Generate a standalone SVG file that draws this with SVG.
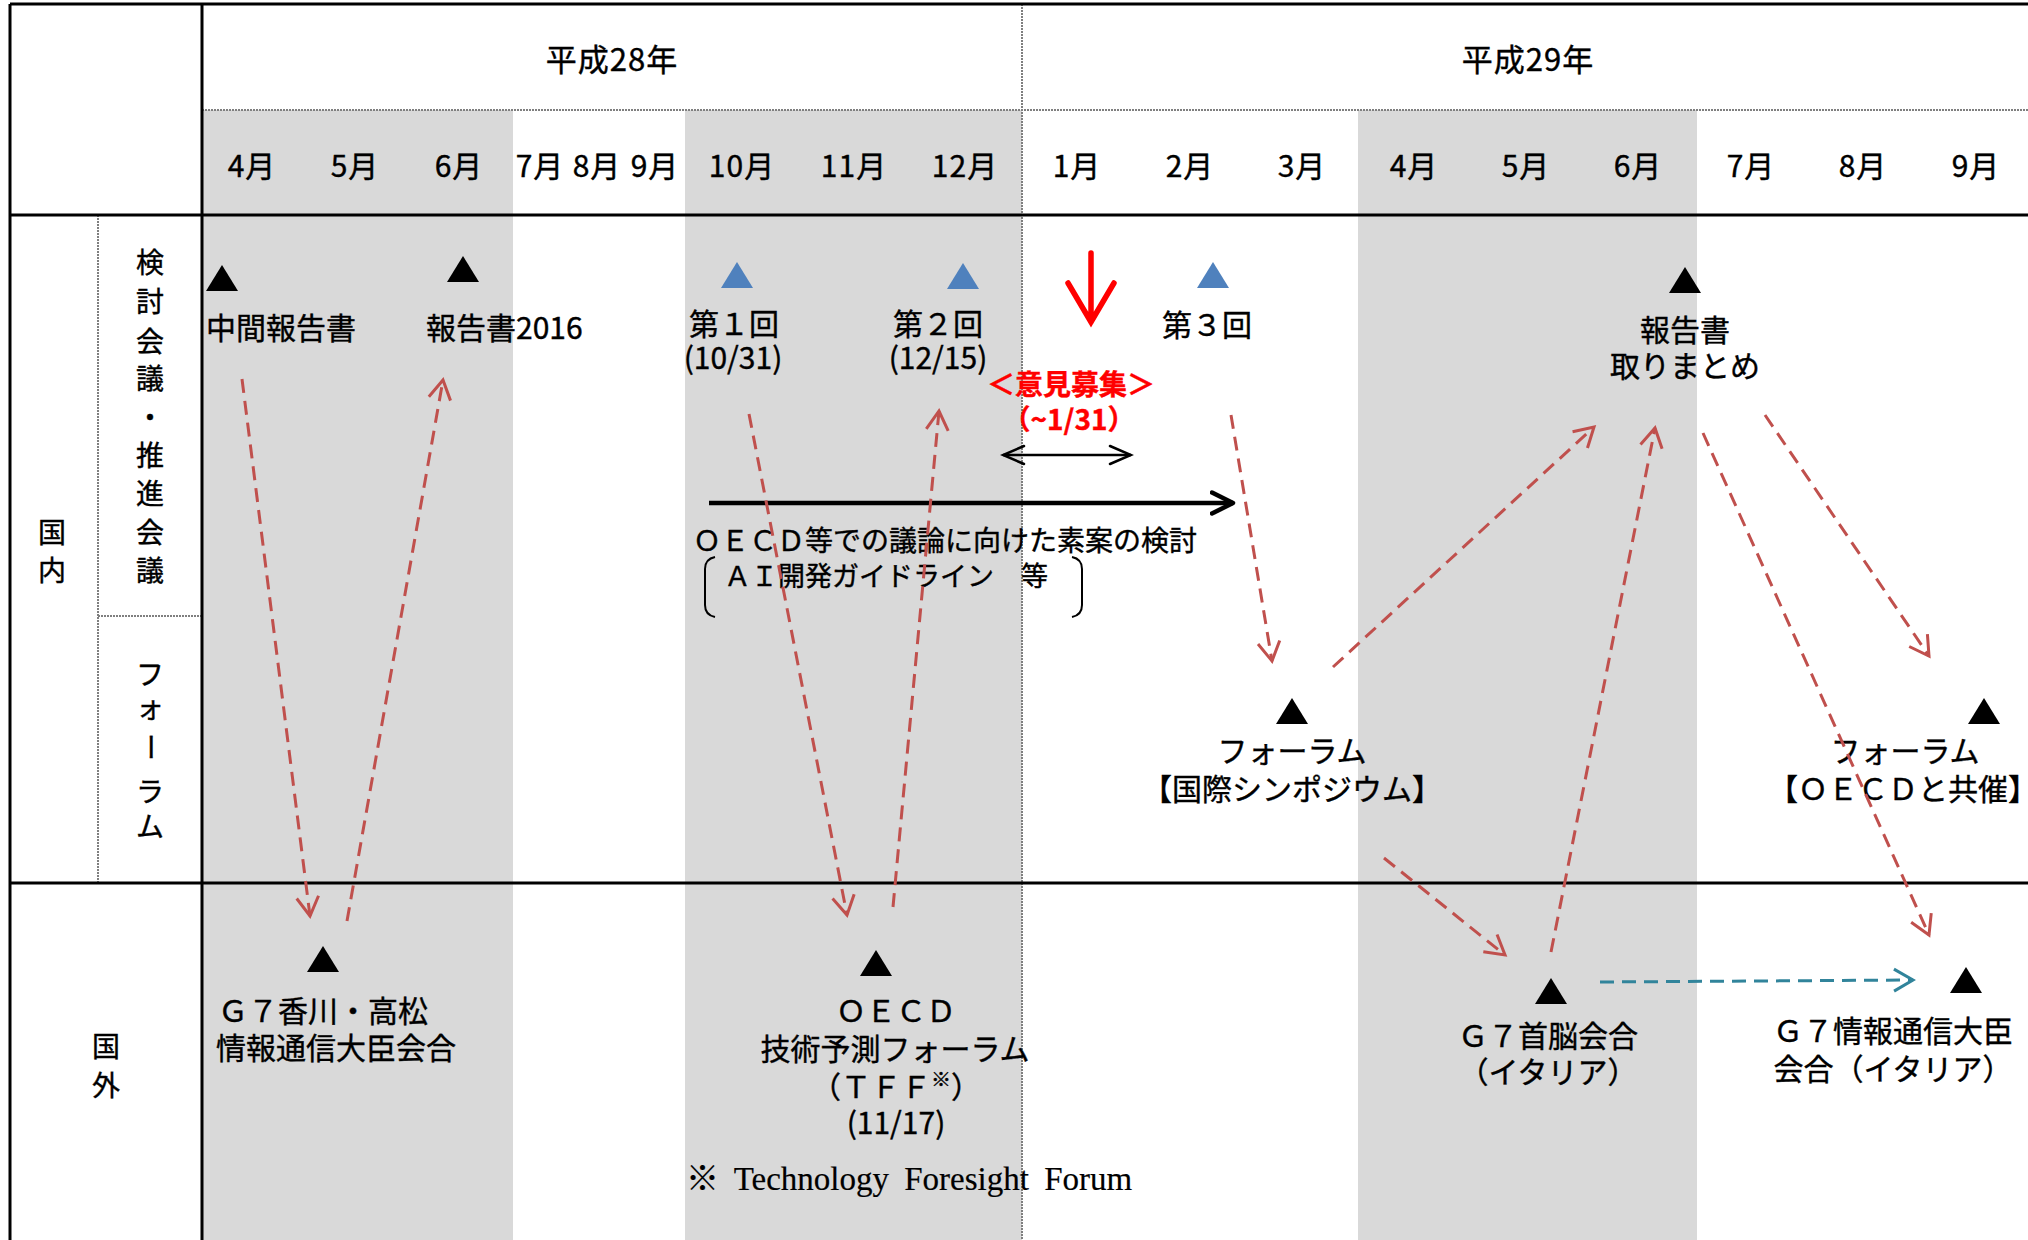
<svg xmlns="http://www.w3.org/2000/svg" width="2028" height="1240" viewBox="0 0 2028 1240">
<style>
text{font-family:"Noto Sans CJK JP","Noto Sans CJK SC",sans-serif;fill:#000;stroke:#000;stroke-width:0.4;}
.t31{font-size:31px;letter-spacing:1px;}
.t30{font-size:30px;}
.t29{font-size:30px;letter-spacing:1px;}
.t28{font-size:28px;}
.m{text-anchor:middle;}
.red{fill:#ff0000;stroke:#ff0000;font-weight:bold;font-size:28px;text-anchor:middle;}
.band{fill:#d9d9d9;}
.thick{stroke:#000;stroke-width:3;fill:none;}
.dot{stroke:#7f7f7f;stroke-width:2;stroke-dasharray:2 1;fill:none;}
.tri{fill:#000;}
.btri{fill:#4f81bd;}
.rd{stroke:#c0504d;stroke-width:3;stroke-dasharray:14 8;fill:none;marker-end:url(#ar);}
</style>
<defs>
<marker id="ar" viewBox="0 0 24 26" refX="21" refY="13" markerWidth="24" markerHeight="26" markerUnits="userSpaceOnUse" orient="auto"><path d="M2,2 L21,13 L2,24" fill="none" stroke="#c0504d" stroke-width="3"/></marker>
<marker id="ab" viewBox="0 0 24 26" refX="21" refY="13" markerWidth="24" markerHeight="26" markerUnits="userSpaceOnUse" orient="auto"><path d="M2,2 L21,13 L2,24" fill="none" stroke="#31849b" stroke-width="3"/></marker>
<marker id="ak" viewBox="0 0 26 26" refX="23" refY="13" markerWidth="26" markerHeight="26" markerUnits="userSpaceOnUse" orient="auto"><path d="M2,2.5 L23,13 L2,23.5" fill="none" stroke="#000" stroke-width="4.5" stroke-linecap="round" stroke-linejoin="round"/></marker>
<marker id="ad" viewBox="0 0 26 22" refX="23" refY="11" markerWidth="26" markerHeight="22" markerUnits="userSpaceOnUse" orient="auto-start-reverse"><path d="M2,2 L23,11 L2,20" fill="none" stroke="#000" stroke-width="2.5" stroke-linecap="round"/></marker>
</defs>

<g id="background">
<rect x="0" y="0" width="2028" height="1240" fill="#ffffff"/>
<rect class="band" x="202" y="110" width="311" height="1130"/>
<rect class="band" x="685" y="110" width="337" height="1130"/>
<rect class="band" x="1358" y="110" width="339" height="1130"/>
</g>

<g id="grid">
<line class="dot" x1="202" y1="110" x2="2028" y2="110"/>
<line class="dot" x1="1022" y1="4" x2="1022" y2="1240"/>
<line class="dot" x1="98" y1="215" x2="98" y2="883"/>
<line class="dot" x1="98" y1="616" x2="202" y2="616"/>
<line class="thick" x1="10" y1="4" x2="2028" y2="4"/>
<line class="thick" x1="10" y1="4" x2="10" y2="1240"/>
<line class="thick" x1="202" y1="4" x2="202" y2="1240"/>
<line class="thick" x1="10" y1="215" x2="2028" y2="215"/>
<line class="thick" x1="10" y1="883" x2="2028" y2="883"/>
</g>

<g id="header">
<text class="t31 m" x="612" y="71">平成28年</text>
<text class="t31 m" x="1528" y="71">平成29年</text>
<text class="t29 m" x="252" y="177">4月</text>
<text class="t29 m" x="355" y="177">5月</text>
<text class="t29 m" x="459" y="177">6月</text>
<text class="t29 m" x="540" y="177">7月</text>
<text class="t29 m" x="597" y="177">8月</text>
<text class="t29 m" x="655" y="177">9月</text>
<text class="t29 m" x="742" y="177">10月</text>
<text class="t29 m" x="854" y="177">11月</text>
<text class="t29 m" x="965" y="177">12月</text>
<text class="t29 m" x="1077" y="177">1月</text>
<text class="t29 m" x="1190" y="177">2月</text>
<text class="t29 m" x="1302" y="177">3月</text>
<text class="t29 m" x="1414" y="177">4月</text>
<text class="t29 m" x="1526" y="177">5月</text>
<text class="t29 m" x="1638" y="177">6月</text>
<text class="t29 m" x="1751" y="177">7月</text>
<text class="t29 m" x="1863" y="177">8月</text>
<text class="t29 m" x="1976" y="177">9月</text>
</g>

<g id="row-labels">
<text class="t28 m" x="52" y="543">国</text>
<text class="t28 m" x="52" y="581">内</text>
<text class="t28 m" x="106" y="1057">国</text>
<text class="t28 m" x="106" y="1096">外</text>
<text class="t28 m" x="150" y="273">検</text>
<text class="t28 m" x="150" y="312">討</text>
<text class="t28 m" x="150" y="352">会</text>
<text class="t28 m" x="150" y="389">議</text>
<text class="t28 m" x="150" y="428">・</text>
<text class="t28 m" x="150" y="466">推</text>
<text class="t28 m" x="150" y="504">進</text>
<text class="t28 m" x="150" y="543">会</text>
<text class="t28 m" x="150" y="581">議</text>
<text class="t28 m" x="150" y="685">フ</text>
<text class="t28 m" x="150" y="718">ォ</text>
<text class="t28 m" x="150" y="757" transform="rotate(90 150 747)">ー</text>
<text class="t28 m" x="150" y="802">ラ</text>
<text class="t28 m" x="150" y="837">ム</text>
</g>

<g id="node-chukan">
<polygon class="tri" points="206,291 238,291 222,265"/>
<text class="t30" x="206" y="339">中間報告書</text>
</g>
<g id="node-report2016">
<polygon class="tri" points="447,282 479,282 463,256"/>
<text class="t30" x="426" y="339">報告書2016</text>
</g>
<g id="node-dai1">
<polygon class="btri" points="721,288 753,288 737,262"/>
<text class="t30 m" x="734" y="335">第１回</text>
<text class="t30 m" x="733" y="369">(10/31)</text>
</g>
<g id="node-dai2">
<polygon class="btri" points="947,289 979,289 963,263"/>
<text class="t30 m" x="938" y="335">第２回</text>
<text class="t30 m" x="938" y="369">(12/15)</text>
</g>
<g id="node-dai3">
<polygon class="btri" points="1197,288 1229,288 1213,262"/>
<text class="t30 m" x="1207" y="336">第３回</text>
</g>
<g id="node-iken">
<path d="M1091,253 V322 M1068,283 L1091,322 L1114,283" fill="none" stroke="#ff0000" stroke-width="5.5" stroke-linecap="round" stroke-linejoin="miter"/>
<text class="red" x="1071" y="395">＜意見募集＞</text>
<text class="red" x="1069" y="430">（~1/31）</text>
<line x1="1003" y1="455" x2="1131" y2="455" stroke="#000" stroke-width="2.5" marker-start="url(#ad)" marker-end="url(#ad)"/>
</g>
<g id="node-soan">
<line x1="709" y1="503" x2="1233" y2="503" stroke="#000" stroke-width="4.5" marker-end="url(#ak)"/>
<text class="t28" x="693" y="551">ＯＥＣＤ等での議論に向けた素案の検討</text>
<path d="M715,557 Q705,559 705,569 V605 Q705,615 715,617" fill="none" stroke="#000" stroke-width="2"/>
<path d="M1072,557 Q1082,559 1082,569 V605 Q1082,615 1072,617" fill="none" stroke="#000" stroke-width="2"/>
<text class="t28" x="724" y="586" style="font-size:27px">ＡＩ開発ガイドライン　等</text>
</g>
<g id="node-report">
<polygon class="tri" points="1669,293 1701,293 1685,267"/>
<text class="t30 m" x="1685" y="341">報告書</text>
<text class="t30 m" x="1685" y="377">取りまとめ</text>
</g>
<g id="node-forum1">
<polygon class="tri" points="1276,724 1308,724 1292,698"/>
<text class="t30 m" x="1292" y="762">フォーラム</text>
<text class="t30 m" x="1292" y="800">【国際シンポジウム】</text>
</g>
<g id="node-forum2">
<polygon class="tri" points="1968,724 2000,724 1984,698"/>
<text class="t30 m" x="1905" y="762">フォーラム</text>
<text class="t30" x="1768" y="800">【ＯＥＣＤと共催】</text>
</g>
<g id="node-g7kagawa">
<polygon class="tri" points="307,972 339,972 323,946"/>
<text class="t30" x="218" y="1022">Ｇ７香川・高松</text>
<text class="t30" x="216" y="1059">情報通信大臣会合</text>
</g>
<g id="node-oecd-tff">
<polygon class="tri" points="860,976 892,976 876,950"/>
<text class="t30 m" x="896" y="1022">ＯＥＣＤ</text>
<text class="t30 m" x="895" y="1060">技術予測フォーラム</text>
<text class="t30 m" x="896" y="1098">（ＴＦＦ<tspan font-size="20" dy="-11">※</tspan><tspan dy="11">）</tspan></text>
<text class="t30 m" x="896" y="1134">(11/17)</text>
<text x="686" y="1190" style="font-family:'Liberation Serif','Noto Sans CJK JP',serif;font-size:33px;word-spacing:7px;stroke-width:0.2">※ Technology Foresight Forum</text>
</g>
<g id="node-g7summit">
<polygon class="tri" points="1535,1004 1567,1004 1551,978"/>
<text class="t30 m" x="1548" y="1047">Ｇ７首脳会合</text>
<text class="t30 m" x="1548" y="1083">（イタリア）</text>
</g>
<g id="node-g7ict">
<polygon class="tri" points="1950,993 1982,993 1966,967"/>
<text class="t30 m" x="1893" y="1042">Ｇ７情報通信大臣</text>
<text class="t30 m" x="1893" y="1080">会合（イタリア）</text>
</g>

<g id="connectors">
<line class="rd" x1="242" y1="379" x2="310" y2="916"/>
<line class="rd" x1="347" y1="921" x2="443" y2="380"/>
<line class="rd" x1="749" y1="414" x2="847" y2="915"/>
<line class="rd" x1="893" y1="907" x2="939" y2="411"/>
<line class="rd" x1="1231" y1="415" x2="1272" y2="661"/>
<line class="rd" x1="1333" y1="667" x2="1594" y2="427"/>
<line class="rd" x1="1551" y1="952" x2="1655" y2="428"/>
<line class="rd" x1="1703" y1="433" x2="1929" y2="935"/>
<line class="rd" x1="1765" y1="415" x2="1929" y2="656"/>
<line class="rd" x1="1384" y1="858" x2="1505" y2="955"/>
<line x1="1600" y1="982" x2="1913" y2="980" stroke="#31849b" stroke-width="3" stroke-dasharray="14 8" marker-end="url(#ab)"/>
</g>
</svg>
